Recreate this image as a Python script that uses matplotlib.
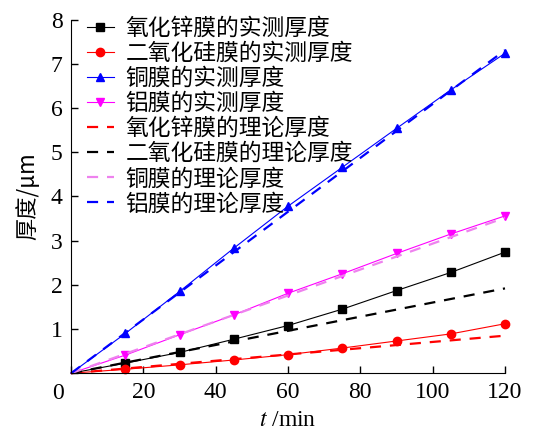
import numpy as np
import matplotlib
matplotlib.use('Agg')
from matplotlib import pyplot as plt

plt.rcParams['font.family'] = ['Liberation Serif', 'Noto Sans CJK SC']
plt.rcParams['mathtext.fontset'] = 'stix'

t = [0, 15, 30, 45, 60, 75, 90, 105, 120]

# measured thickness (um)
zno_meas = [0, 0.23, 0.47, 0.77, 1.08, 1.45, 1.87, 2.28, 2.74]
sio2_meas = [0, 0.09, 0.19, 0.30, 0.42, 0.57, 0.73, 0.89, 1.12]
cu_meas = [0, 0.90, 1.85, 2.83, 3.78, 4.66, 5.54, 6.41, 7.24]
al_meas = [0, 0.41, 0.87, 1.32, 1.81, 2.25, 2.71, 3.15, 3.56]

# theoretical thickness (um)
t_theory = [0, 120]
zno_theory = [0, 0.85]
sio2_theory = [0, 1.92]
cu_theory = [0, 3.52]
al_theory = [0, 7.31]

labels_meas = ['氧化锌膜的实测厚度', '二氧化硅膜的实测厚度', '铜膜的实测厚度', '铝膜的实测厚度']
labels_theory = ['氧化锌膜的理论厚度', '二氧化硅膜的理论厚度', '铜膜的理论厚度', '铝膜的理论厚度']

fig = plt.figure(figsize=(5.51, 4.34), dpi=100)
ax = fig.add_axes([0.129, 0.14, 0.7875, 0.8146])

mk = dict(lw=0.8, ms=6, clip_on=False, markevery=slice(1, None))
ax.plot(t, zno_meas, color='black', marker='s', label=labels_meas[0], **mk)
ax.plot(t, sio2_meas, color='red', marker='o', label=labels_meas[1], **mk)
ax.plot(t, cu_meas, color='blue', marker='^', label=labels_meas[2], **mk)
ax.plot(t, al_meas, color='magenta', marker='v', label=labels_meas[3], **mk)

ds = dict(lw=1.6, dashes=(5, 4), clip_on=False)
ax.plot(t_theory, zno_theory, color='red', label=labels_theory[0], **ds)
ax.plot(t_theory, sio2_theory, color='black', label=labels_theory[1], **ds)
ax.plot(t_theory, cu_theory, color='violet', label=labels_theory[2], **ds)
ax.plot(t_theory, al_theory, color='blue', label=labels_theory[3], **ds)

ax.set_xlim(0, 120)
ax.set_ylim(0, 8)
ax.set_xticks([0, 20, 40, 60, 80, 100, 120])
ax.set_xticklabels(['', '20', '40', '60', '80', '100', '120'])
ax.set_yticks(range(9))
ax.set_yticklabels([''] + [str(i) for i in range(1, 9)])
ax.tick_params(direction='in', length=5, width=1, labelsize=17, pad=6)
ax.spines['top'].set_visible(False)
ax.spines['right'].set_visible(False)
ax.annotate('0', xy=(0, 0), xycoords='axes fraction', xytext=(-13, -20),
            textcoords='offset pixels', fontsize=17, ha='center', va='center')

ax.set_xlabel('$t$ /min', fontsize=17, labelpad=5)
ax.set_ylabel('厚度/μm', fontsize=16, family=['Noto Sans CJK SC'], labelpad=8)

leg = ax.legend(loc='upper left', frameon=False, prop={'family': 'Noto Sans CJK SC', 'size': 16.4},
                handlelength=1.2, handletextpad=0.5, labelspacing=0.09,
                borderaxespad=0.1, bbox_to_anchor=(0.01, 1.04))

plt.savefig('out.png')
